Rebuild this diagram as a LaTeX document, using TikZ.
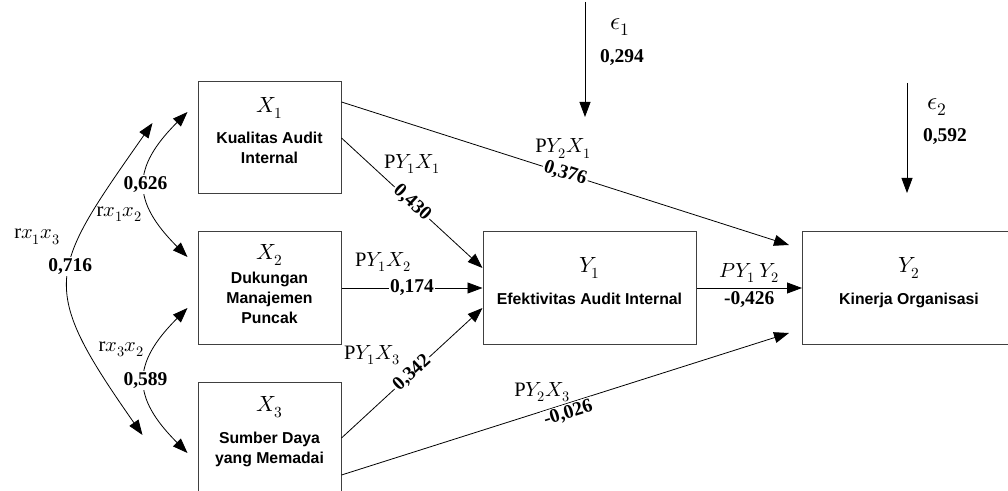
\documentclass[tikz,border=0pt]{standalone}
\usepackage{fontspec}
\usepackage{unicode-math}
\setmainfont{Liberation Serif}
\setmathfont{Latin Modern Math}
\newfontfamily\boxfont{Liberation Sans}
\usetikzlibrary{arrows.meta}

\begin{document}
\begin{tikzpicture}[x=1pt, y=1pt]
    % Styles
    \tikzstyle{box} = [rectangle, draw=black!75, line width=1pt, minimum width=143pt, minimum height=112pt, inner sep=0pt]
    \tikzstyle{wide} = [box, minimum width=213pt]
    \tikzstyle{sym} = [inner sep=0pt, anchor=north, font=\fontsize{22}{26}\selectfont]
    \tikzstyle{boxtext} = [inner sep=0pt, anchor=north, align=center, font=\boxfont\bfseries\fontsize{15.8}{20}\selectfont]
    \tikzstyle{arrow} = [-{Triangle[length=15pt, width=11pt]}, line width=0.8pt]
    \tikzstyle{corr} = [{Triangle[length=15pt, width=11pt]}-{Triangle[length=15pt, width=11pt]}, line width=0.8pt]
    \tikzstyle{coef} = [fill=white, inner sep=1.5pt, font=\bfseries\fontsize{19.5}{22}\selectfont]
    \tikzstyle{plabel} = [inner sep=1pt, font=\fontsize{20.5}{24}\selectfont]
    \tikzstyle{resid} = [inner sep=1pt, font=\fontsize{25}{28}\selectfont]

    \useasboundingbox (0,0) rectangle (1008,490);
    \clip (0,0) rectangle (1008,490);

    % Boxes
    \node[box] (x1) at (269.5,352) {};
    \node[box] (x2) at (269.5,202) {};
    \node[box] (x3) at (269.5,52) {};
    \node[wide] (y1) at (589.5,202) {};
    \node[wide] (y2) at (909,202) {};

    % Box texts
    \node[sym] (x1s) at ([yshift=-16]x1.north) {$X_1$};
    \node[boxtext] (x1t) at ([yshift=-50]x1.north) {Kualitas Audit\\Internal};
    \node[sym] (x2s) at ([yshift=-13]x2.north) {$X_2$};
    \node[boxtext] (x2t) at ([yshift=-40]x2.north) {Dukungan\\Manajemen\\Puncak};
    \node[sym] (x3s) at ([yshift=-15]x3.north) {$X_3$};
    \node[boxtext] (x3t) at ([yshift=-50]x3.north) {Sumber Daya\\yang Memadai};
    \node[sym] (y1s) at ([yshift=-26]y1.north) {$Y_1$};
    \node[boxtext] (y1t) at ([yshift=-61]y1.north) {Efektivitas Audit Internal};
    \node[sym] (y2s) at ([yshift=-26]y2.north) {$Y_2$};
    \node[boxtext] (y2t) at ([yshift=-61]y2.north) {Kinerja Organisasi};

    % Paths
    \draw[arrow] (x1.east) -- node[coef, sloped, midway] {0,430} node[plabel, midway, yshift=39] {$\mathrm{P}Y_1X_1$} ([yshift=20]y1.west);
    \draw[arrow] (x2.east) -- node[coef, midway] {0,174} node[plabel, midway, xshift=-29, yshift=26] {$\mathrm{P}Y_1X_2$} (y1.west);
    \draw[arrow] (x3.east) -- node[coef, sloped, midway] {0,342} node[plabel, midway, xshift=-40, yshift=18] {$\mathrm{P}Y_1X_3$} ([yshift=-20]y1.west);
    \draw[arrow] ([yshift=36]x1.east) -- node[coef, sloped, midway] {0,376} node[plabel, midway, xshift=-2, yshift=25] {$\mathrm{P}Y_2X_1$} ([xshift=-13, yshift=43]y2.west);
    \draw[arrow] ([yshift=-37]x3.east) -- node[coef, sloped, midway, yshift=-10] {-0,026} node[plabel, midway, xshift=-23, yshift=12] {$\mathrm{P}Y_2X_3$} ([xshift=-13, yshift=-45]y2.west);
    \draw[arrow] (y1.east) -- node[plabel, midway, fill=white, yshift=15] {$PY_1\ Y_2$} node[coef, midway, yshift=-12] {-0,426} (y2.west);

    % Residuals
    \coordinate (e1a) at (585,488);
    \coordinate (e1b) at (585,373);
    \draw[arrow] (e1a) -- (e1b);
    \node[resid] (e1s) at (620,463) {$\epsilon_1$};
    \node[coef] (e1v) at (622,432) {0,294};
    \coordinate (e2a) at (907,407);
    \coordinate (e2b) at (907,297);
    \draw[arrow] (e2a) -- (e2b);
    \node[resid] (e2s) at (937,383) {$\epsilon_2$};
    \node[coef] (e2v) at (945,353) {0,592};

    % Correlations
    \draw[corr] ([xshift=-10, yshift=26]x1.west) to[out=225, in=135, looseness=1.4] node[coef, midway] {0,626} node[plabel, midway, xshift=-26, yshift=-30] {$\mathrm{r}x_1x_2$} ([xshift=-10, yshift=31]x2.west);
    \draw[corr] ([xshift=-10, yshift=-20]x2.west) to[out=225, in=135, looseness=1.4] node[coef, midway] {0,589} node[plabel, midway, xshift=-24, yshift=31] {$\mathrm{r}x_3x_2$} ([xshift=-10, yshift=-15]x3.west);
    \draw[corr] ([xshift=-45, yshift=15]x1.west) to[out=235, in=125, looseness=1.5] node[coef, pos=0.45] {0,716} node[plabel, pos=0.45, xshift=-33, yshift=30] {$\mathrm{r}x_1x_3$} ([xshift=-55, yshift=3]x3.west);
\end{tikzpicture}
\end{document}
